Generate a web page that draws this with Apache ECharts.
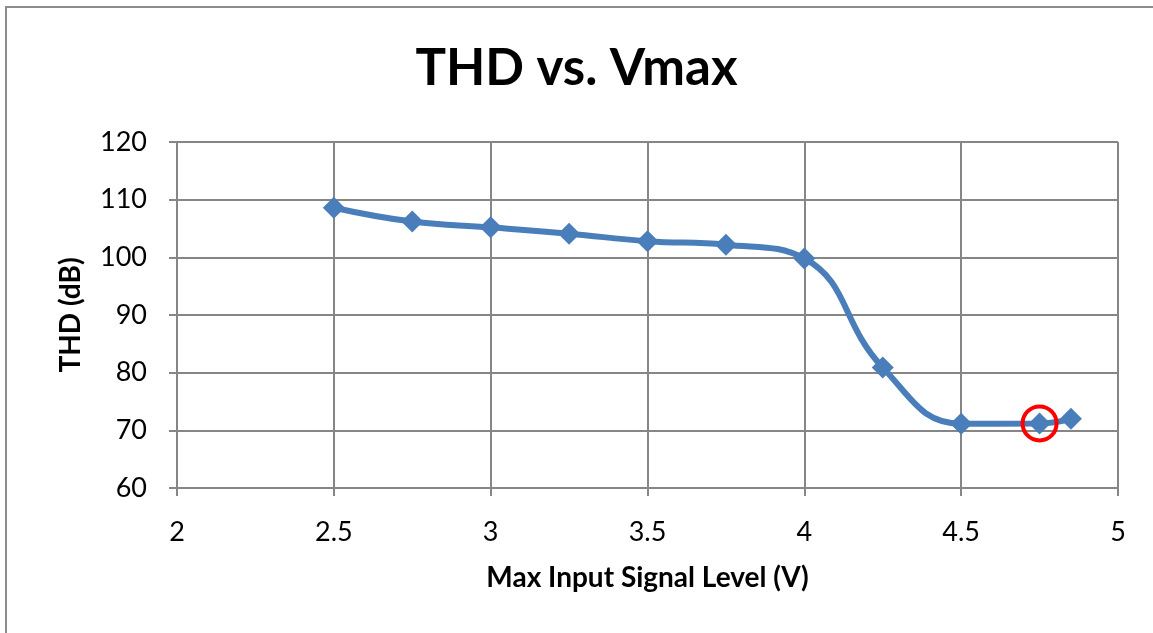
<!DOCTYPE html>
<html><head><meta charset="utf-8">
<script src="https://cdn.jsdelivr.net/npm/echarts@6/dist/echarts.min.js"></script>
<style>html,body{margin:0;padding:0;background:#fff}#c{width:1153px;height:633px}</style>
</head><body><div id="c"></div>
<script>
const xValues = [2.5, 2.75, 3, 3.25, 3.5, 3.75, 4, 4.25, 4.5, 4.75, 4.85];
const thdValues = [108.6, 106.2, 105.2, 104.1, 102.8, 102.2, 99.8, 80.9, 71.15, 71.2, 72.0];
const highlightPoint = [4.75, 71.2];
const FONT = 'Lato, "Open Sans", sans-serif';

const chart = echarts.init(document.getElementById('c'));
chart.setOption({
  animation: false,
  backgroundColor: '#fff',
  title: {
    text: 'THD vs. Vmax', left: 'center', top: 38,
    textStyle: {fontFamily: FONT, fontSize: 51, fontWeight: 'bold', color: '#000'}
  },
  graphic: [{
    type: 'rect', shape: {x: 6, y: 7, width: 1160, height: 640},
    style: {fill: 'none', stroke: '#8c8c8c', lineWidth: 2}, silent: true
  }],
  grid: {left: 177, right: 35, top: 142, bottom: 145},
  xAxis: {
    type: 'value', min: 2, max: 5, interval: 0.5,
    name: 'Max Input Signal Level (V)', nameLocation: 'middle', nameGap: 76,
    nameTextStyle: {fontFamily: FONT, fontSize: 28, fontWeight: 'bold', color: '#000'},
    axisLine: {show: true, lineStyle: {color: '#868686', width: 2}},
    axisTick: {show: true, length: 8, lineStyle: {color: '#868686', width: 2}},
    axisLabel: {fontFamily: FONT, fontSize: 27, color: '#000', margin: 31},
    splitLine: {show: true, lineStyle: {color: '#868686', width: 2}}
  },
  yAxis: {
    type: 'value', min: 60, max: 120, interval: 10,
    name: 'THD (dB)', nameLocation: 'middle', nameGap: 92, nameRotate: 90,
    nameTextStyle: {fontFamily: FONT, fontSize: 28, fontWeight: 'bold', color: '#000'},
    axisLine: {show: true, lineStyle: {color: '#868686', width: 2}},
    axisTick: {show: true, length: 8, lineStyle: {color: '#868686', width: 2}},
    axisLabel: {fontFamily: FONT, fontSize: 27, color: '#000', margin: 30},
    splitLine: {show: true, lineStyle: {color: '#868686', width: 2}}
  },
  series: [{
    type: 'line',
    data: xValues.map((x, i) => [x, thdValues[i]]),
    smooth: 0.45,
    symbol: 'diamond', symbolSize: 22,
    lineStyle: {color: '#4a7ebb', width: 6},
    itemStyle: {color: '#4a7ebb'},
    markPoint: {
      silent: true,
      symbol: 'circle', symbolSize: 34,
      itemStyle: {color: 'rgba(0,0,0,0)', borderColor: '#ff0000', borderWidth: 4},
      label: {show: false},
      data: [{coord: highlightPoint}]
    }
  }]
});
</script></body></html>
